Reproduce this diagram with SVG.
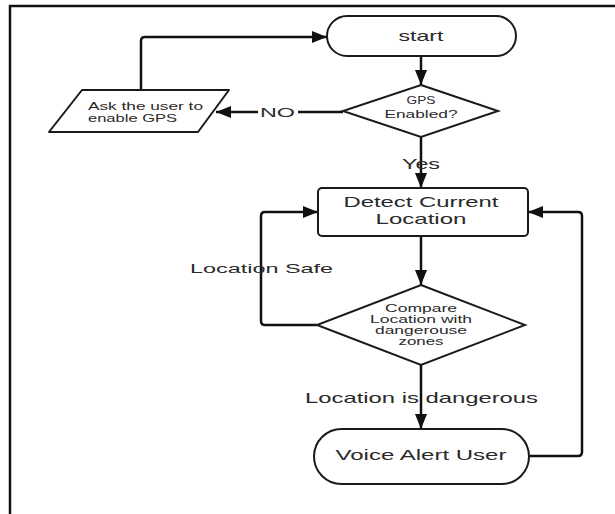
<svg xmlns="http://www.w3.org/2000/svg" width="615" height="514" viewBox="0 0 615 514">
<style>
.shape{fill:#fff;stroke:#1a1a1a;stroke-width:2}
.conn{fill:none;stroke:#111;stroke-width:2.5}
text{font-family:"Liberation Sans",Arial,sans-serif;fill:#2a2a2a}
.c{text-anchor:middle}
</style>
<defs>
<marker id="arr" markerUnits="userSpaceOnUse" markerWidth="16" markerHeight="12" refX="15" refY="6" orient="auto">
<path d="M0,0 L15,6 L0,12 Z" fill="#111"/>
</marker>
</defs>
<rect x="10" y="6" width="700" height="600" fill="none" stroke="#111" stroke-width="2.5"/>
<g id="connectors">
<path class="conn" d="M421,56 V85" marker-end="url(#arr)"/>
<path class="conn" d="M343,112 H216" marker-end="url(#arr)"/>
<path class="conn" d="M141,90 V41 Q141,37 145,37 H327" marker-end="url(#arr)"/>
<path class="conn" d="M421,137 V188" marker-end="url(#arr)"/>
<path class="conn" d="M421,236 V285" marker-end="url(#arr)"/>
<path class="conn" d="M317,325 H265 Q261,325 261,321 V216 Q261,212 265,212 H318" marker-end="url(#arr)"/>
<path class="conn" d="M421,365 V429" marker-end="url(#arr)"/>
<path class="conn" d="M529,456 H578 Q582,456 582,452 V216 Q582,212 578,212 H528" marker-end="url(#arr)"/>
<rect x="258" y="104" width="40" height="16" fill="#fff"/>
<text x="260" y="117" font-size="13.5" textLength="35" lengthAdjust="spacingAndGlyphs">NO</text>
<text x="402" y="169" font-size="14.5" textLength="38" lengthAdjust="spacingAndGlyphs">Yes</text>
<text x="190" y="273" font-size="13.5" textLength="143" lengthAdjust="spacingAndGlyphs">Location Safe</text>
<text x="305" y="403" font-size="14.5" textLength="233" lengthAdjust="spacingAndGlyphs">Location is dangerous</text>
</g>
<g id="start">
<rect class="shape" x="327" y="16" width="189" height="40" rx="20"/>
<text class="c" x="421" y="41" font-size="14.5" textLength="45" lengthAdjust="spacingAndGlyphs">start</text>
</g>
<g id="gps">
<path class="shape" d="M421,85 L498,111 L421,137 L343,111 Z"/>
<text class="c" x="421" y="104" font-size="11.5" textLength="29" lengthAdjust="spacingAndGlyphs">GPS</text>
<text class="c" x="421" y="118" font-size="11.5" textLength="73" lengthAdjust="spacingAndGlyphs">Enabled?</text>
</g>
<g id="ask">
<path class="shape" d="M82,90 L229,90 L198,132 L49,132 Z" stroke-linejoin="round"/>
<text x="88" y="110" font-size="11.5" textLength="115" lengthAdjust="spacingAndGlyphs">Ask the user to</text>
<text x="88" y="122" font-size="11.5" textLength="89" lengthAdjust="spacingAndGlyphs">enable GPS</text>
</g>
<g id="detect">
<rect class="shape" x="318" y="188" width="210" height="48" rx="4"/>
<text class="c" x="421" y="207" font-size="14.5" textLength="155" lengthAdjust="spacingAndGlyphs">Detect Current</text>
<text class="c" x="421" y="224" font-size="14.5" textLength="91" lengthAdjust="spacingAndGlyphs">Location</text>
</g>
<g id="compare">
<path class="shape" d="M421,285 L525,325 L421,365 L317,325 Z"/>
<text class="c" x="421" y="312" font-size="10.5" textLength="72" lengthAdjust="spacingAndGlyphs">Compare</text>
<text class="c" x="421" y="323" font-size="10.5" textLength="102" lengthAdjust="spacingAndGlyphs">Location with</text>
<text class="c" x="421" y="334" font-size="10.5" textLength="92" lengthAdjust="spacingAndGlyphs">dangerouse</text>
<text class="c" x="421" y="345" font-size="10.5" textLength="45" lengthAdjust="spacingAndGlyphs">zones</text>
</g>
<g id="voice">
<rect class="shape" x="314" y="429" width="215" height="55" rx="27.5"/>
<text class="c" x="421" y="460" font-size="14.5" textLength="171" lengthAdjust="spacingAndGlyphs">Voice Alert User</text>
</g>
</svg>
